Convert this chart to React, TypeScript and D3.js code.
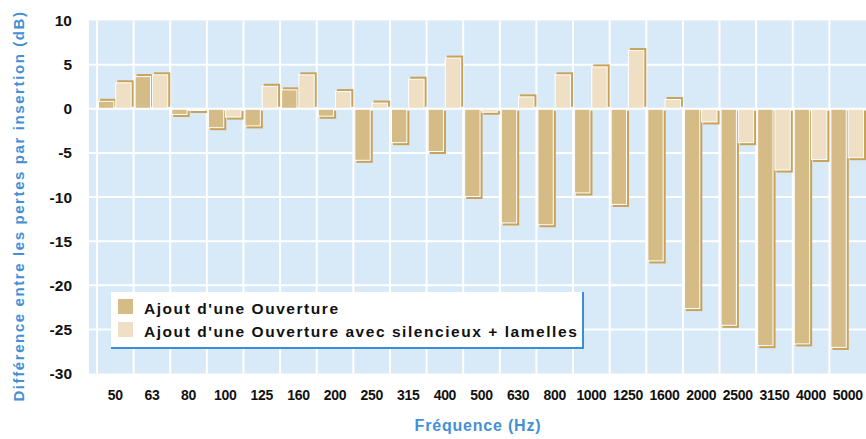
import React from 'react'
import * as d3 from 'd3'

// fréquences (Hz)
const categories = ['50', '63', '80', '100', '125', '160', '200', '250', '315', '400', '500',
  '630', '800', '1000', '1250', '1600', '2000', '2500', '3150', '4000', '5000']

const series = ["Ajout d'une Ouverture", "Ajout d'une Ouverture avec silencieux + lamelles"]

// différence (dB)
const ouverture = [0.9, 3.7, -0.7, -2.2, -2.0, 2.2, -0.9, -5.9, -3.9, -4.9, -10.0,
  -13.0, -13.2, -9.6, -10.9, -17.3, -22.7, -24.6, -26.9, -26.7, -27.1]
const silencieux = [3.0, 3.9, -0.25, -1.0, 2.6, 3.9, 2.0, 0.7, 3.4, 5.8, -0.45,
  1.4, 3.9, 4.8, 6.65, 1.1, -1.55, -3.9, -7.0, -5.8, -5.6]

const yTicks = [10, 5, 0, -5, -10, -15, -20, -25, -30]

const W = 866, H = 439
const plot = {left: 89, top: 20.5, bottom: 373.5, right: 866}
const fills = ['#d5bc86', '#eedfc5']
const shadow = '#c7a258'
const blue = '#4490d6'

export default function App() {
  const x = d3.scaleBand().domain(categories).range([97, 866]).padding(0)
  const xs = d3.scaleBand().domain(series).range([1, x.bandwidth() - 2]).paddingInner(0.05)
  const y = d3.scaleLinear().domain([-30, 10]).range([plot.bottom, plot.top])
  const data = [ouverture, silencieux]

  return (
    <svg width={W} height={H} style={{position: 'absolute', left: 0, top: 0}}
      fontFamily="'Liberation Sans', Arial, sans-serif">
      <rect x={plot.left} y={plot.top} width={plot.right - plot.left} height={plot.bottom - plot.top} fill="#d8e9f7" />
      {yTicks.filter(t => t < 10 && t > -30).map(t => (
        <line key={t} x1={plot.left} x2={plot.right} y1={y(t)} y2={y(t)} stroke="#fff" strokeWidth={2} />
      ))}
      {categories.map(c => (
        <line key={c} x1={x(c)} x2={x(c)} y1={plot.top} y2={plot.bottom} stroke="#fff" strokeWidth={2} />
      ))}

      {data.map((vals, si) => vals.map((v, i) => {
        const bx = (x(categories[i]) as number) + (xs(series[si]) as number)
        const bw = xs.bandwidth()
        const y0 = y(0), y1 = y(v)
        const top = Math.min(y0, y1), h = Math.abs(y1 - y0)
        const dy = v >= 0 ? -2 : 2
        return (
          <g key={si + '-' + i}>
            <rect x={bx + 2} y={top + dy} width={bw} height={h} fill={shadow} />
            <rect x={bx + 0.5} y={top + 0.5} width={bw - 1} height={Math.max(h - 1, 0)} fill={fills[si]} stroke="#fff" strokeWidth={1} />
          </g>
        )
      }))}

      {yTicks.map(t => (
        <text key={t} x={72} y={y(t)} dy="0.36em" textAnchor="end" fontSize={15.5} fontWeight="bold" fill="#111">{t}</text>
      ))}
      {categories.map(c => (
        <text key={c} x={(x(c) as number) + x.bandwidth() / 2} y={400} textAnchor="middle" fontSize={14} fontWeight="bold" letterSpacing={-0.3} fill="#111">{c}</text>
      ))}

      <g>
        <rect x={111} y={292} width={472} height={56} fill="#fff" />
        <line x1={111} x2={583} y1={348} y2={348} stroke="#3a8fd4" strokeWidth={2} />
        <line x1={583} x2={583} y1={292} y2={349} stroke="#3a8fd4" strokeWidth={2} />
        {series.map((s, i) => (
          <g key={s}>
            <rect x={118} y={299 + i * 23} width={15} height={15} fill={fills[i]} />
            <text x={144} y={314 + i * 23} fontSize={15.5} fontWeight="bold" letterSpacing={1.55} fill="#111">{s}</text>
          </g>
        ))}
      </g>

      <text transform={`translate(24,206) rotate(-90)`} textAnchor="middle" fontSize={15} fontWeight="bold"
        letterSpacing={1.6} fill={blue}>Différence entre les pertes par insertion (dB)</text>
      <text x={478} y={431} textAnchor="middle" fontSize={16} fontWeight="bold" letterSpacing={0.8} fill={blue}>Fréquence (Hz)</text>
    </svg>
  )
}
